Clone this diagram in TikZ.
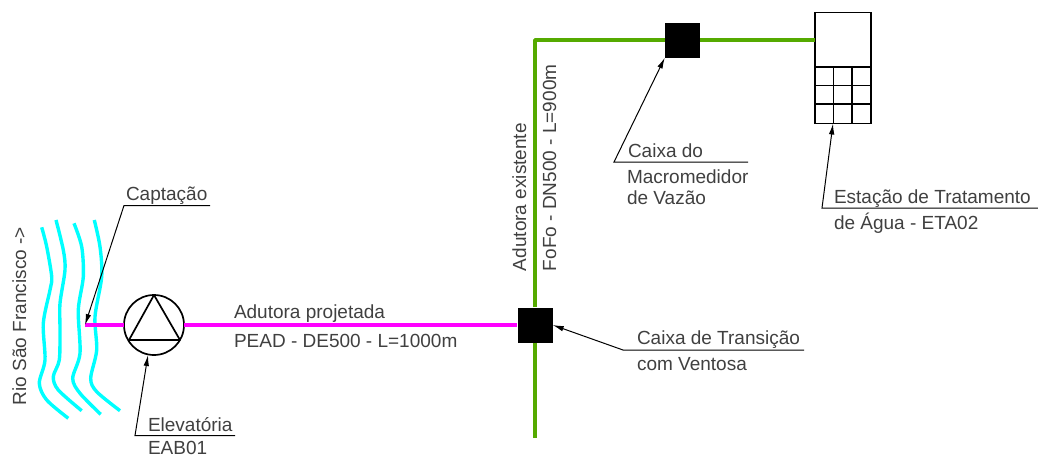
\documentclass[tikz,border=0pt]{standalone}
\usepackage{fontspec}
\setmainfont{Liberation Sans}
\usetikzlibrary{arrows.meta}
\definecolor{txt}{gray}{0.25}
\definecolor{pipeG}{RGB}{85,170,0}
\definecolor{pipeM}{RGB}{255,0,255}
\definecolor{riverC}{RGB}{0,255,255}
\tikzset{
  lab/.style={anchor=base west,inner sep=0pt,outer sep=0pt,text=txt,font=\fontsize{19}{21}\selectfont},
  vlab/.style={lab,rotate=90},
  river/.style={riverC,line width=3.4pt,smooth,tension=0.5},
  gpipe/.style={pipeG,line width=3.8pt,line join=round},
  mpipe/.style={pipeM,line width=3.8pt},
  blackbox/.style={draw=none,fill=black,minimum width=35pt,minimum height=35pt,inner sep=0pt},
  leader/.style={black,line width=1pt,-{Latex[length=11pt,width=5.5pt]}},
  outl/.style={black,line width=1.7pt},
}
\begin{document}
\begin{tikzpicture}[x=1pt,y=-1pt]
\useasboundingbox (0,0) rectangle (1038,456);
% river
\draw[river] plot coordinates {(41.7,227.3)(46.7,246.7)(51.7,276.7)(50,290)(43.3,323.3)(45,360)(39.3,383.3)(46.7,400)(68.3,418.3)};
\draw[river] plot coordinates {(56,220)(63.3,250)(65,270)(60,303.3)(60,330)(59.3,360)(53.3,376.7)(58.3,390)(81.7,410.7)};
\draw[river] plot coordinates {(74,223.3)(81.7,246.7)(83.3,276.7)(78.3,310)(80,353.3)(72.7,378.3)(80,393.3)(100.7,414.3)};
\draw[river] plot coordinates {(94.3,220)(100,246.7)(101.7,276.7)(95,316.7)(96.7,350)(90.7,378.3)(96.7,391.7)(120,410.7)};
% coordinates and equipment
\coordinate (capEnd) at (85,325);
\coordinate (corner) at (535,40);
\coordinate (gEnd) at (535,438);
\node[circle,draw=black,line width=1.7pt,minimum size=60pt,inner sep=0pt,outer sep=0pt] (pump) at (154,325) {};
\node[blackbox] (boxT) at (535,325) {};
\node[blackbox] (boxM) at (682.5,40) {};
\node[draw=black,line width=1.7pt,minimum width=56pt,minimum height=111pt,inner sep=0pt,outer sep=0pt,anchor=north west] (eta) at (815,12.5) {};
% pipes
\draw[mpipe] (capEnd) -- (pump.west);
\draw[mpipe] (pump.east) -- (boxT.west);
\draw[gpipe] (gEnd) -- (boxT.south);
\draw[gpipe] (boxT.north) -- (corner) -- (boxM.west);
\draw[gpipe] (boxM.east) -- (eta.west |- boxM.east);
% pump triangle
\coordinate (triA) at (154,295);
\coordinate (triB) at (129,340);
\coordinate (triC) at (180,340);
\draw[outl,line join=round] (triA) -- (triB) -- (triC) -- cycle;
% ETA grid
\draw[outl] (815,67) -- (871,67);
\draw[outl] (815,85.5) -- (871,85.5);
\draw[outl] (815,104) -- (871,104);
\draw[outl] (833.5,67) -- (833.5,123.5);
\draw[outl] (852,67) -- (852,123.5);
% leaders
\coordinate (capA) at (210,205.5); \coordinate (capB) at (124,205.5);
\coordinate (eleA) at (235,435.5); \coordinate (eleB) at (135,435.5);
\coordinate (etaA) at (1038,208); \coordinate (etaB) at (822,208);
\coordinate (macA) at (748,162); \coordinate (macB) at (614,162);
\coordinate (traA) at (804,350); \coordinate (traB) at (623,350);
\draw[leader] (capA) -- (capB) -- (capEnd);
\draw[leader] (eleA) -- (eleB) -- (148,355);
\draw[leader] (etaA) -- (etaB) -- (833,123.5);
\draw[leader] (macA) -- (macB) -- (boxM.south west);
\draw[leader] (traA) -- (traB) -- (boxT.east);
% labels
\node[lab] (t1) at (126,200) {Captação};
\node[lab] (t2) at (148,431) {Elevatória};
\node[lab] (t3) at (148,454) {EAB01};
\node[lab] (t4) at (234,318) {Adutora projetada};
\node[lab] (t5) at (234,347) {PEAD - DE500 - L=1000m};
\node[lab] (t6) at (628,157) {Caixa do};
\node[lab] (t7) at (627,183) {Macromedidor};
\node[lab] (t8) at (627,204) {de Vazão};
\node[lab] (t9) at (834,203) {Estação de Tratamento};
\node[lab] (t10) at (834,229) {de Água - ETA02};
\node[lab] (t11) at (637,344) {Caixa de Transição};
\node[lab] (t12) at (637,370) {com Ventosa};
\node[vlab] (t13) at (26,405) {Rio São Francisco ->};
\node[vlab] (t14) at (526,271) {Adutora existente};
\node[vlab] (t15) at (556,271) {FoFo - DN500 - L=900m};
\end{tikzpicture}
\end{document}
